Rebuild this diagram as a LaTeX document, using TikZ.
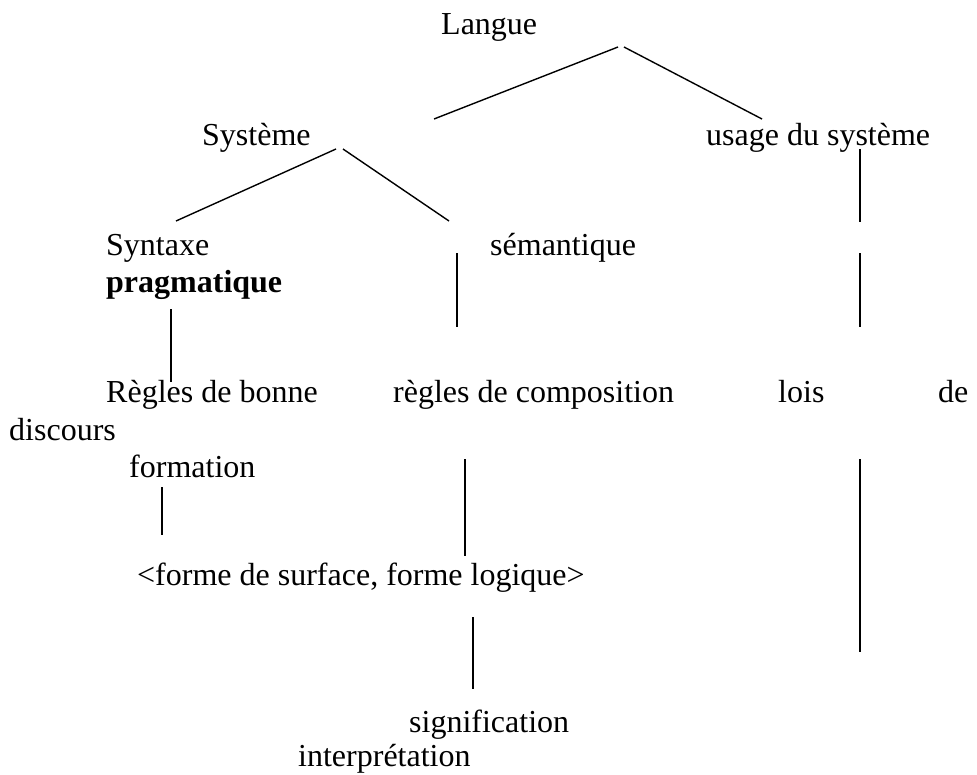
\documentclass[tikz,border=0pt]{standalone}
\usepackage{fontspec}
\setmainfont{Liberation Serif}
\begin{document}
\begin{tikzpicture}[x=1pt,y=-1pt,
  lbl/.style={anchor=base west,inner sep=0pt,font=\fontsize{32}{38}\selectfont},
  stem/.style={line width=1.4pt}]
\useasboundingbox (0,0) rectangle (977,774);

% labels
\node[lbl] (langue) at (441,34) {Langue};
\node[lbl] (systeme) at (202,145) {Système};
\node[lbl] (usage) at (706,145) {usage du système};
\node[lbl] (syntaxe) at (106,255) {Syntaxe};
\node[lbl] (semantique) at (490,255) {sémantique};
\node[lbl,font=\fontsize{32}{38}\selectfont\bfseries] (pragma) at (106,292) {pragmatique};
\node[lbl] (regles) at (106,402) {Règles de bonne};
\node[lbl] (compo) at (393,402) {règles de composition};
\node[lbl] (lois) at (778,402) {lois};
\node[lbl] (de) at (938,402) {de};
\node[lbl] (discours) at (9,440) {discours};
\node[lbl] (formation) at (129,477) {formation};
\node[lbl] (formes) at (137,585) {<forme de surface, forme logique>};
\node[lbl] (signif) at (409,732) {signification};
\node[lbl] (interp) at (298,766) {interprétation};

% line end points
\coordinate (lA) at (618,47);  \coordinate (lB) at (434,119);
\coordinate (rA) at (624,47);  \coordinate (rB) at (762,119);
\coordinate (sA) at (336,149); \coordinate (sB) at (176,221);
\coordinate (tA) at (343,149); \coordinate (tB) at (449,221);
\coordinate (u1) at (860,149); \coordinate (u2) at (860,222);
\coordinate (u3) at (860,253); \coordinate (u4) at (860,327);
\coordinate (u5) at (860,459); \coordinate (u6) at (860,652);
\coordinate (m1) at (457,253); \coordinate (m2) at (457,327);
\coordinate (m3) at (465,459); \coordinate (m4) at (465,556);
\coordinate (m5) at (473,617); \coordinate (m6) at (473,689);
\coordinate (p1) at (171,309); \coordinate (p2) at (171,382);
\coordinate (f1) at (162,487); \coordinate (f2) at (162,535);

% tree lines
\draw[stem] (lA) -- (lB);
\draw[stem] (rA) -- (rB);
\draw[stem] (sA) -- (sB);
\draw[stem] (tA) -- (tB);
\draw[stem] (u1) -- (u2);
\draw[stem] (u3) -- (u4);
\draw[stem] (u5) -- (u6);
\draw[stem] (m1) -- (m2);
\draw[stem] (m3) -- (m4);
\draw[stem] (m5) -- (m6);
\draw[stem] (p1) -- (p2);
\draw[stem] (f1) -- (f2);
\end{tikzpicture}
\end{document}
